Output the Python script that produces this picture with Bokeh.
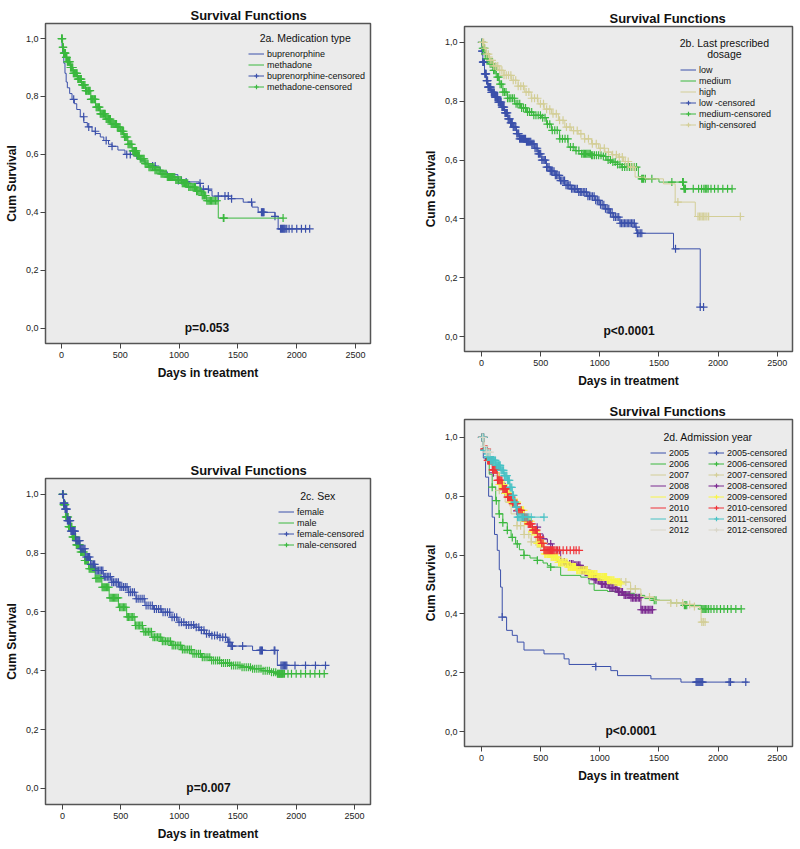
from bokeh.plotting import figure
from bokeh.layouts import row, column
from bokeh.models import Range1d, FixedTicker, Label, Legend, LegendItem
from bokeh.embed import file_html
from bokeh.resources import INLINE

FONT = "Liberation Sans"

# ---------------- axis ticks ----------------
x_ticks = [0, 500, 1000, 1500, 2000, 2500]
x_tick_labels = ["0", "500", "1000", "1500", "2000", "2500"]
y_ticks = [0.0, 0.2, 0.4, 0.6, 0.8, 1.0]
y_tick_labels = ["0,0", "0,2", "0,4", "0,6", "0,8", "1,0"]

# ---------------- 2a. Medication type ----------------
bup_t = [0, 5, 10, 20, 30, 40, 50, 70, 90, 110, 130, 160, 190, 220, 260, 290, 330, 360, 400, 430, 480, 540, 610, 640,
         670, 710, 740, 800, 840, 900, 990, 1060, 1170, 1180, 1250, 1280, 1420, 1545, 1620, 1672, 1815, 1842, 2110]
bup_s = [1.0, 0.97, 0.95, 0.915, 0.88, 0.85, 0.83, 0.81, 0.79, 0.775, 0.755, 0.73, 0.71, 0.695, 0.68, 0.672, 0.66,
         0.648, 0.635, 0.628, 0.615, 0.60, 0.595, 0.585, 0.578, 0.57, 0.56, 0.555, 0.54, 0.53, 0.51, 0.505, 0.50,
         0.48, 0.475, 0.456, 0.447, 0.435, 0.418, 0.40, 0.386, 0.343, 0.343]
bup_c = [104, 189, 232, 288, 380, 430, 555, 585, 775, 797, 994, 1020, 1060, 1178, 1206, 1249, 1333, 1390, 1418, 1446,
         1616, 1700, 1705, 1710, 1716, 1722, 1815, 1862, 1870, 1878, 1886, 1894, 1902, 1915, 1935, 1960, 2000, 2040,
         2075, 2110]
met_t = [0, 10, 20, 35, 50, 75, 100, 135, 170, 205, 250, 290, 330, 375, 420, 470, 500, 530, 565, 600, 640, 670, 710,
         740, 790, 840, 900, 965, 1020, 1080, 1140, 1190, 1234, 1333, 1884]
met_s = [1.0, 0.97, 0.95, 0.935, 0.92, 0.90, 0.88, 0.86, 0.84, 0.82, 0.79, 0.763, 0.74, 0.722, 0.705, 0.694, 0.68,
         0.66, 0.635, 0.612, 0.595, 0.585, 0.568, 0.556, 0.545, 0.533, 0.522, 0.512, 0.50, 0.487, 0.473, 0.458,
         0.44, 0.38, 0.38]
met_c = [1, 4, 7, 10, 13, 16, 20, 23, 27, 30, 34, 38, 42, 46, 50, 54, 58, 63, 67, 72, 77, 81, 86, 91, 96, 101, 106,
         111, 117, 122, 128, 133, 139, 145, 151, 157, 163, 169, 175, 181, 187, 193, 200, 206, 212, 218, 225, 231,
         237, 244, 250, 256, 263, 269, 276, 282, 289, 295, 302, 309, 316, 323, 330, 337, 344, 351, 358, 365, 372,
         380, 387, 394, 401, 409, 416, 423, 431, 438, 445, 453, 460, 468, 475, 483, 490, 498, 505, 513, 520, 528,
         536, 543, 551, 559, 566, 574, 582, 590, 598, 606, 614, 622, 630, 638, 646, 654, 662, 670, 678, 686, 695,
         703, 711, 719, 728, 736, 744, 753, 761, 770, 778, 787, 795, 804, 812, 821, 830, 838, 847, 856, 864, 873,
         882, 891, 900, 909, 918, 927, 936, 945, 954, 963, 972, 981, 990, 999, 1008, 1017, 1027, 1036, 1045, 1054,
         1064, 1073, 1082, 1092, 1101, 1111, 1120, 1130, 1139, 1149, 1158, 1168, 1178, 1187, 1197, 1206, 1216,
         1226, 1236, 1246, 1256, 1266, 1276, 1287, 1298, 1310, 1322, 1376, 1381, 1884]

# ---------------- 2b. Last prescribed dosage ----------------
low_t = [0, 5, 11, 25, 40, 54, 80, 110, 140, 167, 195, 223, 245, 266, 295, 322, 380, 421, 450, 478, 510, 549, 580,
         619, 660, 704, 760, 817, 890, 958, 1000, 1043, 1080, 1114, 1170, 1298, 1312, 1623, 1849, 1877]
low_s = [1.0, 0.97, 0.933, 0.893, 0.87, 0.848, 0.83, 0.814, 0.797, 0.78, 0.76, 0.74, 0.726, 0.712, 0.69, 0.672,
         0.662, 0.655, 0.64, 0.621, 0.60, 0.576, 0.562, 0.548, 0.53, 0.514, 0.502, 0.491, 0.477, 0.463, 0.448,
         0.434, 0.42, 0.406, 0.385, 0.372, 0.351, 0.298, 0.10, 0.10]
low_c = [2, 5, 8, 11, 14, 17, 21, 24, 28, 31, 35, 39, 43, 47, 51, 55, 59, 64, 68, 73, 78, 83, 88, 93, 98, 103, 108,
         114, 119, 125, 130, 136, 142, 148, 154, 160, 166, 172, 178, 185, 191, 198, 204, 211, 218, 225, 232, 239,
         246, 253, 260, 268, 275, 283, 290, 298, 306, 314, 322, 330, 338, 346, 355, 363, 372, 380, 389, 398, 407,
         416, 425, 434, 443, 452, 462, 471, 481, 490, 500, 510, 520, 530, 540, 550, 560, 571, 581, 592, 602, 613,
         624, 635, 646, 657, 668, 679, 691, 702, 714, 725, 737, 749, 761, 773, 785, 797, 810, 822, 835, 847, 860,
         873, 886, 899, 912, 925, 938, 952, 965, 979, 992, 1006, 1020, 1034, 1048, 1062, 1076, 1090, 1104, 1118,
         1132, 1146, 1160, 1172, 1184, 1196, 1208, 1220, 1232, 1244, 1256, 1268, 1280, 1292, 1306, 1318, 1330,
         1342, 1355, 1640, 1849, 1877]
med_t = [0, 10, 25, 45, 68, 95, 124, 150, 181, 220, 280, 330, 379, 440, 506, 550, 591, 660, 732, 790, 846, 930, 1015,
         1060, 1100, 1150, 1185, 1326, 1354, 1425, 1500, 1708, 2118]
med_s = [1.0, 0.98, 0.961, 0.945, 0.927, 0.905, 0.882, 0.858, 0.831, 0.81, 0.791, 0.777, 0.763, 0.752, 0.744, 0.722,
         0.701, 0.672, 0.644, 0.632, 0.621, 0.616, 0.612, 0.60, 0.593, 0.585, 0.576, 0.544, 0.536, 0.536, 0.525,
         0.502, 0.502]
med_c = [4, 10, 17, 24, 31, 39, 47, 55, 64, 73, 82, 92, 102, 112, 123, 134, 145, 157, 169, 181, 194, 207, 220, 234,
         248, 262, 277, 292, 307, 323, 339, 355, 372, 389, 406, 424, 442, 460, 479, 498, 517, 537, 557, 577, 598,
         619, 640, 662, 684, 706, 729, 752, 775, 799, 823, 847, 860, 870, 880, 890, 900, 910, 920, 930, 940, 955,
         972, 990, 1010, 1030, 1050, 1070, 1090, 1110, 1130, 1150, 1170, 1190, 1210, 1230, 1250, 1270, 1290, 1310,
         1354, 1362, 1370, 1385, 1440, 1609, 1700, 1706, 1712, 1718, 1724, 1790, 1835, 1860, 1880, 1892, 1904,
         1916, 1940, 1970, 2000, 2040, 2080, 2118]
high_t = [0, 20, 40, 68, 100, 138, 190, 252, 310, 365, 420, 478, 530, 591, 650, 704, 760, 817, 870, 930, 990, 1043,
          1100, 1156, 1200, 1241, 1298, 1383, 1538, 1637, 1807, 2188]
high_s = [1.0, 0.98, 0.96, 0.939, 0.92, 0.905, 0.888, 0.871, 0.851, 0.831, 0.81, 0.791, 0.773, 0.757, 0.735, 0.712,
          0.70, 0.689, 0.672, 0.655, 0.64, 0.627, 0.618, 0.61, 0.595, 0.576, 0.542, 0.536, 0.519, 0.457, 0.408,
          0.408]
high_c = [8, 18, 30, 44, 58, 73, 88, 104, 120, 137, 154, 172, 190, 209, 228, 248, 268, 289, 310, 332, 354, 377, 400,
          424, 448, 473, 498, 524, 550, 577, 604, 632, 660, 689, 718, 748, 778, 809, 840, 872, 904, 937, 970, 1004,
          1038, 1073, 1108, 1140, 1165, 1190, 1215, 1240, 1262, 1285, 1660, 1830, 1842, 1854, 1866, 1878, 1890,
          1905, 1920, 2188]

# ---------------- 2c. Sex ----------------
fem_t = [0, 10, 20, 40, 70, 111, 150, 196, 240, 281, 350, 423, 490, 564, 630, 706, 780, 848, 920, 989, 1060, 1131,
         1170, 1216, 1270, 1329, 1414, 1443, 1627, 1839, 2251]
fem_s = [1.0, 0.97, 0.95, 0.911, 0.875, 0.843, 0.815, 0.787, 0.762, 0.741, 0.72, 0.701, 0.685, 0.667, 0.645, 0.622,
         0.61, 0.599, 0.582, 0.565, 0.556, 0.548, 0.538, 0.526, 0.52, 0.514, 0.497, 0.484, 0.469, 0.418, 0.418]
fem_c = [2, 6, 10, 14, 18, 23, 28, 33, 38, 43, 49, 55, 61, 67, 73, 80, 87, 94, 101, 108, 116, 124, 132, 140, 148,
         157, 166, 175, 184, 193, 203, 213, 223, 233, 243, 254, 265, 276, 287, 298, 310, 322, 334, 346, 358, 371,
         384, 397, 410, 423, 437, 451, 465, 479, 493, 508, 523, 538, 553, 568, 584, 600, 616, 632, 648, 665, 682,
         699, 716, 733, 751, 769, 787, 805, 823, 842, 861, 880, 899, 918, 938, 958, 978, 998, 1018, 1039, 1060,
         1081, 1102, 1123, 1145, 1167, 1189, 1211, 1233, 1256, 1279, 1302, 1325, 1348, 1372, 1396, 1420, 1432,
         1444, 1455, 1542, 1690, 1697, 1704, 1711, 1812, 1818, 1870, 1880, 1890, 1900, 1910, 1920, 1990, 2080,
         2165, 2251]
male_t = [0, 10, 26, 50, 82, 115, 153, 190, 224, 280, 338, 400, 479, 550, 621, 690, 763, 850, 933, 1020, 1103, 1190,
          1273, 1360, 1443, 1530, 1613, 1700, 1783, 1839, 2251]
male_s = [1.0, 0.965, 0.923, 0.89, 0.855, 0.828, 0.804, 0.775, 0.747, 0.714, 0.684, 0.648, 0.616, 0.583, 0.554,
          0.533, 0.514, 0.5, 0.486, 0.472, 0.458, 0.446, 0.435, 0.426, 0.418, 0.412, 0.407, 0.40, 0.395, 0.39, 0.39]
male_c = [1, 4, 7, 10, 13, 16, 19, 22, 25, 29, 33, 37, 41, 45, 49, 53, 57, 61, 66, 71, 76, 81, 86, 91, 96, 101, 107,
          113, 119, 125, 131, 137, 143, 149, 156, 163, 170, 177, 184, 191, 198, 205, 213, 221, 229, 237, 245, 253,
          261, 269, 277, 286, 295, 304, 313, 322, 331, 340, 349, 358, 367, 377, 387, 397, 407, 417, 427, 437, 447,
          457, 467, 478, 489, 500, 511, 522, 533, 544, 555, 566, 577, 589, 601, 613, 625, 637, 649, 661, 673, 685,
          697, 710, 723, 736, 749, 762, 775, 788, 801, 814, 827, 841, 855, 869, 883, 897, 911, 925, 939, 953, 967,
          982, 997, 1012, 1027, 1042, 1057, 1072, 1087, 1102, 1117, 1133, 1149, 1165, 1181, 1197, 1213, 1229, 1245,
          1261, 1277, 1294, 1311, 1328, 1345, 1362, 1379, 1396, 1413, 1430, 1447, 1465, 1483, 1501, 1519, 1537,
          1555, 1573, 1591, 1609, 1627, 1645, 1663, 1681, 1699, 1717, 1735, 1753, 1771, 1789, 1807, 1825, 1840,
          1846, 1852, 1858, 1864, 1870, 1876, 1882, 1890, 1900, 1930, 1960, 2000, 2040, 2080, 2120, 2160, 2200,
          2240]

# ---------------- 2d. Admission year ----------------
y05_t = [0, 15, 34, 60, 90, 110, 133, 150, 161, 175, 212, 260, 302, 359, 528, 698, 740, 966, 1093, 1150, 1432, 1686,
         2252]
y05_s = [1.0, 0.93, 0.865, 0.8, 0.729, 0.67, 0.616, 0.55, 0.491, 0.389, 0.344, 0.327, 0.304, 0.277, 0.264, 0.247,
         0.228, 0.221, 0.207, 0.19, 0.179, 0.168, 0.168]
y05_c = [175, 966, 1814, 1822, 1830, 1838, 1846, 1854, 1862, 1870, 2093, 2105, 2234]
y06_t = [0, 15, 42, 65, 90, 120, 147, 180, 218, 250, 288, 320, 359, 410, 472, 520, 557, 585, 669, 839, 909, 952,
         1065, 1180, 1291, 1380, 1460, 1600, 1715, 1856, 2195]
y06_s = [1.0, 0.96, 0.922, 0.875, 0.831, 0.785, 0.74, 0.71, 0.684, 0.66, 0.638, 0.618, 0.599, 0.59, 0.582, 0.573,
         0.565, 0.559, 0.531, 0.525, 0.502, 0.48, 0.476, 0.47, 0.463, 0.452, 0.446, 0.437, 0.429, 0.417, 0.417]
y06_c = [35, 60, 90, 125, 150, 180, 218, 260, 302, 359, 472, 585, 1460, 1475, 1715, 1725, 1735, 1862, 1872, 1882,
         1892, 1905, 1920, 1940, 1965, 1990, 2020, 2050, 2080, 2110, 2150, 2195]
y07_t = [0, 20, 50, 100, 150, 200, 250, 300, 360, 420, 500, 560, 640, 720, 800, 880, 960, 1050, 1178, 1260, 1347,
         1460, 1600, 1715, 1800, 1842, 1856, 1898]
y07_s = [1.0, 0.95, 0.92, 0.87, 0.82, 0.78, 0.74, 0.70, 0.67, 0.645, 0.627, 0.60, 0.58, 0.565, 0.55, 0.535, 0.525,
         0.515, 0.508, 0.485, 0.457, 0.446, 0.437, 0.432, 0.425, 0.417, 0.372, 0.372]
y07_c = [60, 150, 240, 300, 330, 360, 400, 420, 460, 500, 1180, 1220, 1260, 1300, 1350, 1420, 1600, 1650, 1700, 1760,
         1800, 1862, 1875, 1890]
y08_t = [0, 20, 50, 100, 150, 200, 250, 300, 359, 410, 472, 520, 557, 600, 669, 720, 782, 840, 896, 950, 1008, 1080,
         1150, 1200, 1263, 1347, 1446]
y08_s = [1.0, 0.96, 0.93, 0.88, 0.845, 0.81, 0.78, 0.75, 0.718, 0.695, 0.672, 0.655, 0.638, 0.615, 0.576, 0.57,
         0.565, 0.548, 0.531, 0.516, 0.502, 0.488, 0.474, 0.464, 0.455, 0.414, 0.414]
y08_c = [100, 200, 300, 380, 430, 470, 520, 585, 640, 669, 700, 720, 745, 760, 773, 784, 797, 808, 821, 832, 845,
         856, 869, 880, 893, 904, 917, 928, 941, 952, 965, 976, 989, 1000, 1013, 1024, 1037, 1048, 1061, 1072, 1085,
         1096, 1109, 1120, 1133, 1144, 1157, 1168, 1181, 1192, 1205, 1216, 1229, 1240, 1253, 1264, 1277, 1288,
         1301, 1312, 1325, 1336, 1350, 1362, 1375, 1386, 1399, 1410, 1423, 1434, 1446]
y09_t = [0, 20, 50, 100, 150, 200, 250, 302, 360, 420, 470, 528, 585, 650, 726, 800, 896, 980, 1065, 1120, 1178]
y09_s = [1.0, 0.96, 0.93, 0.88, 0.84, 0.81, 0.78, 0.752, 0.715, 0.68, 0.64, 0.604, 0.593, 0.575, 0.559, 0.548,
         0.536, 0.525, 0.514, 0.508, 0.502]
y09_c = [150, 161, 170, 181, 190, 201, 210, 221, 230, 241, 250, 261, 270, 281, 290, 301, 309, 319, 327, 337, 345,
         355, 363, 373, 381, 391, 399, 409, 417, 427, 435, 445, 453, 463, 471, 481, 489, 499, 507, 517, 525, 535,
         543, 553, 561, 571, 579, 589, 597, 607, 615, 625, 633, 643, 651, 661, 669, 679, 687, 697, 705, 715, 723,
         733, 741, 751, 759, 769, 777, 787, 795, 805, 813, 823, 831, 841, 849, 859, 867, 877, 885, 895, 903, 913,
         921, 931, 939, 949, 957, 967, 975, 985, 993, 1003, 1011, 1021, 1029, 1039, 1047, 1057, 1065, 1075, 1083,
         1093, 1101, 1111, 1119, 1129, 1137, 1147, 1155, 1165, 1178]
y10_t = [0, 20, 48, 90, 133, 175, 218, 260, 302, 345, 387, 430, 472, 500, 528, 825]
y10_s = [1.0, 0.96, 0.922, 0.89, 0.854, 0.825, 0.797, 0.775, 0.752, 0.728, 0.706, 0.685, 0.661, 0.64, 0.616, 0.616]
y10_c = [2, 6, 10, 14, 18, 22, 27, 32, 37, 42, 47, 52, 58, 64, 70, 76, 82, 88, 94, 100, 107, 114, 121, 128, 135,
         142, 149, 156, 164, 172, 180, 188, 196, 204, 212, 220, 228, 236, 245, 254, 263, 272, 281, 290, 299, 308,
         317, 326, 335, 345, 355, 365, 375, 385, 395, 405, 415, 425, 435, 445, 455, 465, 476, 487, 498, 509, 520,
         528, 536, 544, 552, 560, 568, 576, 584, 592, 600, 610, 620, 632, 645, 660, 690, 720, 750, 780, 800, 825]
y11_t = [0, 20, 50, 76, 120, 161, 190, 218, 240, 260, 275, 288, 302, 528]
y11_s = [1.0, 0.956, 0.935, 0.922, 0.905, 0.888, 0.87, 0.854, 0.83, 0.803, 0.78, 0.763, 0.729, 0.729]
y11_c = [3, 7, 11, 15, 19, 23, 27, 31, 36, 41, 46, 51, 56, 61, 66, 71, 76, 82, 88, 94, 100, 106, 112, 118, 124, 130,
         137, 144, 151, 158, 165, 172, 179, 186, 193, 200, 207, 214, 221, 228, 235, 242, 249, 256, 263, 270, 277,
         284, 291, 298, 305, 315, 325, 335, 345, 355, 368, 385, 400, 420, 528]
y12_t = [0, 20, 40, 70]
y12_s = [1.0, 0.97, 0.95, 0.95]
y12_c = [10, 25, 40, 55, 70]

BLUE, GREEN, TAN = "#3B50AA", "#3AB83E", "#D3CE97"
PURPLE, YELLOW, RED, CYAN, LGREY = "#7B2A90", "#F8F548", "#EF3338", "#48C2C5", "#D9D6C8"


def at(times, surv, t):
    v = surv[0]
    for ti, si in zip(times, surv):
        if ti <= t:
            v = si
        else:
            break
    return v


def make_fig(w, h, bl, br, bt, bb, xr, yr):
    p = figure(width=w, height=h, x_range=Range1d(*xr), y_range=Range1d(*yr),
               output_backend="svg", toolbar_location=None, title="Survival Functions",
               min_border_left=bl, min_border_right=br, min_border_top=bt, min_border_bottom=bb)
    p.title.align = "left"
    p.title.offset = 145
    p.title.standoff = 1
    p.title.text_font = FONT
    p.title.text_font_size = "13px"
    p.title.text_font_style = "bold"
    p.title.text_color = "#111111"
    p.background_fill_color = "#ebebeb"
    p.border_fill_color = "white"
    p.outline_line_color = "#555555"
    p.outline_line_width = 1.5
    p.grid.visible = False
    p.xaxis.ticker = FixedTicker(ticks=x_ticks)
    p.xaxis.major_label_overrides = dict(zip(x_ticks, x_tick_labels))
    p.yaxis.ticker = FixedTicker(ticks=y_ticks)
    p.yaxis.major_label_overrides = dict(zip(y_ticks, y_tick_labels))
    p.xaxis.axis_label = "Days in treatment"
    p.yaxis.axis_label = "Cum Survival"
    for ax in (p.xaxis[0], p.yaxis[0]):
        ax.axis_line_color = None
        ax.major_tick_line_color = "#444444"
        ax.major_tick_in = 0
        ax.major_tick_out = 5
        ax.minor_tick_line_color = None
        ax.major_label_text_font = FONT
        ax.major_label_text_font_size = "9px"
        ax.major_label_text_color = "#222222"
        ax.axis_label_text_font = FONT
        ax.axis_label_text_font_size = "12px"
        ax.axis_label_text_font_style = "bold"
        ax.axis_label_text_color = "#111111"
    p.xaxis.major_label_standoff = 3
    p.xaxis.axis_label_standoff = 5
    p.yaxis.major_label_standoff = 2
    p.yaxis.axis_label_standoff = 4
    return p


def add_text(p, x, y, text, size, bold=False):
    p.add_layout(Label(x=x, y=y, text=text, text_align="center", text_baseline="middle",
                       text_font=FONT, text_font_size=size, text_color="#111111",
                       text_font_style="bold" if bold else "normal"))


def add_series(p, t, s, c, color, lw=1):
    lr = p.step(t, s, mode="after", line_color=color, line_width=lw)
    cy = [at(t, s, ci) for ci in c]
    sr = p.scatter(c, cy, marker="cross", size=8, line_color=color, line_width=1.2)
    return lr, sr


def add_legend(p, entries, loc):
    items = []
    for label, rends in entries:
        items.append(LegendItem(label=label, renderers=rends))
    lg = Legend(items=items, location=loc, padding=0, margin=0, spacing=0,
                glyph_height=11, glyph_width=16, label_height=11, label_standoff=3,
                label_text_font=FONT, label_text_font_size="9px", label_text_color="#111111",
                background_fill_alpha=0, border_line_alpha=0)
    p.add_layout(lg)


# ---------- panel a ----------
pa = make_fig(400, 400, 45, 29, 23, 57, (-135.6, 2627), (-0.053, 1.052))
a1 = add_series(pa, bup_t, bup_s, bup_c, BLUE)
a2 = add_series(pa, met_t, met_s, met_c, GREEN)
add_legend(pa, [("buprenorphine", [a1[0]]), ("methadone", [a2[0]]),
                ("buprenorphine-censored", [a1[0], a1[1]]), ("methadone-censored", [a2[0], a2[1]])], (203, 251))
add_text(pa, 2072, 1.001, "2a. Medication type", "10.5px")
add_text(pa, 1237, 0.0, "p=0.053", "12px", True)

# ---------- panel b ----------
pb = make_fig(400, 400, 64, 8, 26, 49, (-144, 2629), (-0.051, 1.054))
b1 = add_series(pb, low_t, low_s, low_c, BLUE)
b2 = add_series(pb, med_t, med_s, med_c, GREEN)
b3 = add_series(pb, high_t, high_s, high_c, TAN)
add_legend(pb, [("low", [b1[0]]), ("medium", [b2[0]]), ("high", [b3[0]]),
                ("low -censored", [b1[0], b1[1]]), ("medium-censored", [b2[0], b2[1]]),
                ("high-censored", [b3[0], b3[1]])], (216, 221))
add_text(pb, 2053, 0.997, "2b. Last prescribed", "10.5px")
add_text(pb, 2053, 0.961, "dosage", "10.5px")
add_text(pb, 1247, 0.018, "p<0.0001", "12px", True)

# ---------- panel c ----------
pc = make_fig(400, 448, 43, 30, 78, 44, (-144.6, 2636), (-0.055, 1.054))
c2 = add_series(pc, male_t, male_s, male_c, GREEN)
c1 = add_series(pc, fem_t, fem_s, fem_c, BLUE)
add_legend(pc, [("female", [c1[0]]), ("male", [c2[0]]),
                ("female-censored", [c1[0], c1[1]]), ("male-censored", [c2[0], c2[1]])], (233, 254))
add_text(pc, 2185, 0.993, "2c. Sex", "10.5px")
add_text(pc, 1250, 0.0, "p=0.007", "12px", True)

# ---------- panel d ----------
pd_ = make_fig(400, 448, 64, 8, 19, 102, (-144, 2629), (-0.051, 1.061))
years = ["2005", "2006", "2007", "2008", "2009", "2010", "2011", "2012"]
year_data = [(y05_t, y05_s, y05_c, BLUE), (y06_t, y06_s, y06_c, GREEN), (y07_t, y07_s, y07_c, TAN),
             (y08_t, y08_s, y08_c, PURPLE), (y09_t, y09_s, y09_c, YELLOW), (y10_t, y10_s, y10_c, RED),
             (y11_t, y11_s, y11_c, CYAN), (y12_t, y12_s, y12_c, LGREY)]
d_rends = [add_series(pd_, t, s, c, col) for (t, s, c, col) in year_data]
add_legend(pd_, [(yr, [r[0]]) for yr, r in zip(years, d_rends)], (186, 211))
add_legend(pd_, [(yr + "-censored", [r[0], r[1]]) for yr, r in zip(years, d_rends)], (244, 211))
add_text(pd_, 1915, 1.0, "2d. Admission year", "10.5px")
add_text(pd_, 1263, 0.003, "p<0.0001", "12px", True)

layout = row(column(pa, pc), column(pb, pd_))
open("out.html", "w").write(file_html(layout, INLINE))
